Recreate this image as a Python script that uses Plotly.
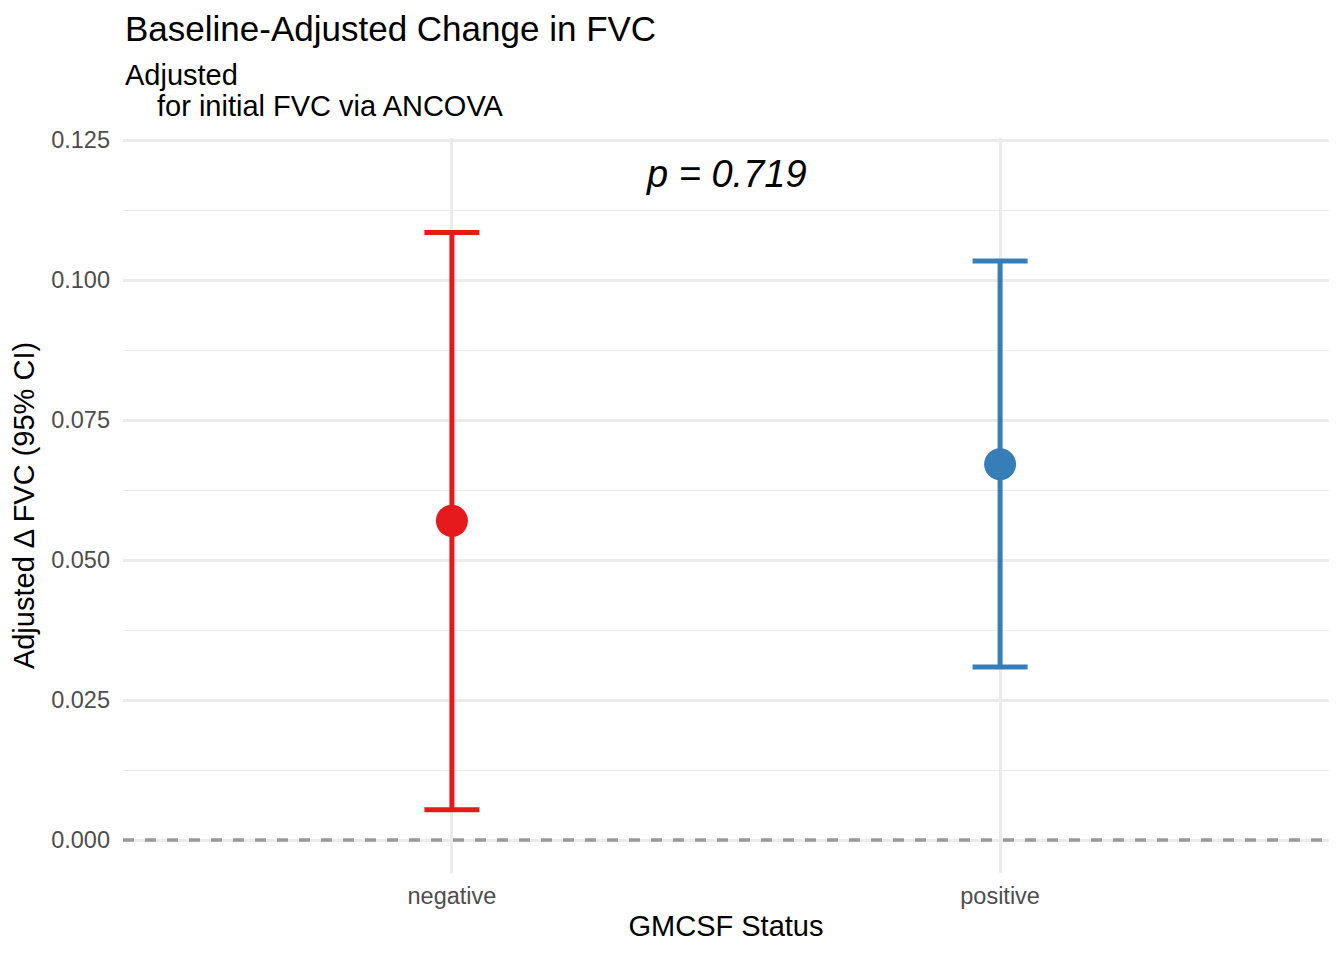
import plotly.graph_objects as go

# ---- data ----
categories = ["negative", "positive"]
means = [0.0570, 0.0671]
lower = [0.0054, 0.0309]
upper = [0.1085, 0.1034]
colors = ["#E41A1C", "#377EB8"]
p_label = "p = 0.719"
p_x = 0.5
p_y = 0.119
ref_line = 0.0
y_ticks = [0.0, 0.025, 0.05, 0.075, 0.1, 0.125]

FONT = "Liberation Sans, Arial, sans-serif"

fig = go.Figure()
for cat, m, lo, hi, col in zip(categories, means, lower, upper, colors):
    fig.add_trace(go.Scatter(
        x=[cat], y=[m],
        mode="markers",
        marker=dict(color=col, size=32, line=dict(width=0)),
        error_y=dict(type="data", symmetric=False,
                     array=[hi - m], arrayminus=[m - lo],
                     color=col, thickness=5, width=27.5),
        showlegend=False,
        hoverinfo="skip",
    ))

fig.add_shape(type="line", xref="paper", x0=0, x1=1, yref="y", y0=ref_line, y1=ref_line,
              line=dict(color="#999999", width=3.5, dash="11px,11px"), layer="above")

fig.add_annotation(x=p_x, y=p_y, xref="x", yref="y", text="<i>" + p_label + "</i>",
                   showarrow=False, font=dict(size=38, color="black", family=FONT),
                   xanchor="center", yanchor="middle")

# title and subtitle
fig.add_annotation(x=0, y=1, xref="paper", yref="paper", yshift=110,
                   text="Baseline-Adjusted Change in FVC", showarrow=False,
                   xanchor="left", yanchor="middle",
                   font=dict(size=35, color="black", family=FONT))
fig.add_annotation(x=0, y=1, xref="paper", yref="paper", yshift=63,
                   text="Adjusted", showarrow=False,
                   xanchor="left", yanchor="middle",
                   font=dict(size=29, color="black", family=FONT))
fig.add_annotation(x=0, y=1, xref="paper", yref="paper", yshift=32, xshift=32,
                   text="for initial FVC via ANCOVA", showarrow=False,
                   xanchor="left", yanchor="middle",
                   font=dict(size=29, color="black", family=FONT))

fig.update_layout(
    width=1336, height=952,
    margin=dict(l=115, r=15, t=130, b=87),
    plot_bgcolor="white", paper_bgcolor="white",
    font=dict(family=FONT),
    xaxis=dict(
        type="category", categoryorder="array", categoryarray=categories,
        range=[-0.6, 1.6],
        showgrid=True, gridcolor="#EBEBEB", gridwidth=2.7,
        zeroline=False, showline=False, ticks="",
        tickfont=dict(size=23.5, color="#4D4D4D", family=FONT),
        ticklabelstandoff=6,
        title=dict(text="GMCSF Status", font=dict(size=29, color="black", family=FONT), standoff=8),
    ),
    yaxis=dict(
        range=[-0.00589, 0.12536],
        tickvals=y_ticks, tickformat=".3f",
        showgrid=True, gridcolor="#EBEBEB", gridwidth=2.7,
        minor=dict(dtick=0.0125, tick0=0, showgrid=True, gridcolor="#EBEBEB", gridwidth=1.4),
        zeroline=False, showline=False, ticks="",
        tickfont=dict(size=23.5, color="#4D4D4D", family=FONT),
        ticklabelstandoff=12,
        title=dict(text="Adjusted Δ FVC (95% CI)", font=dict(size=29, color="black", family=FONT), standoff=8),
    ),
)

fig.write_html("out.html")
